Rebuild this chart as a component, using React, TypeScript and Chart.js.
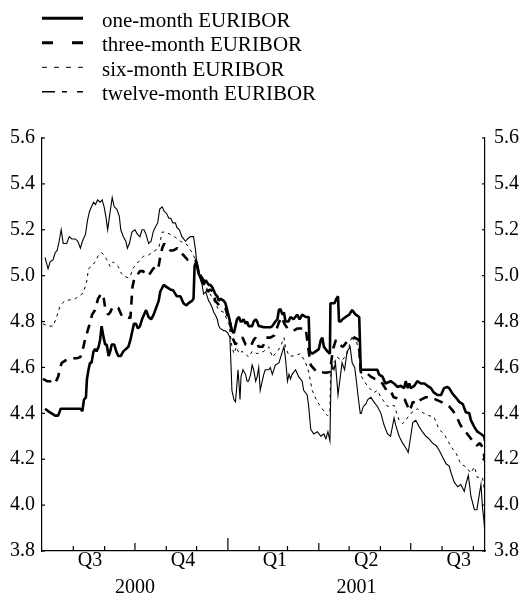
import { useEffect, useRef } from "react";
import { Chart, registerables } from "chart.js";

Chart.register(...registerables);

const FONT = '"Liberation Serif", "Times New Roman", serif';

// x values: days counted from 1 July 2000; y values: percentages per annum
const oneMonthDays = [
  3, 6, 9.5, 13, 16, 18.5, 21, 24.5, 28, 31,
  34.5, 38, 40, 41.5, 43.5, 44.5, 46, 47.5, 49, 51,
  52.5, 54, 56, 57.5, 59, 61, 62.5, 64, 66, 67.5,
  69, 71.5, 73.5, 75.5, 78, 80.5, 83, 85.5, 87.5, 89,
  91, 93, 95, 97, 99, 101, 103, 105.5, 108, 110.5,
  113, 115.5, 117, 120.5, 123.5, 127, 130, 133.5, 137, 140,
  143, 145, 148.5, 150, 151, 152.5, 153.5, 155, 157, 158.5,
  160, 162, 163.5, 165, 166.5, 168.5, 170, 171.5, 173.5, 175,
  176.5, 180, 181.5, 183, 185, 186.5, 188, 190, 191.5, 193,
  195, 196.5, 198, 199.5, 201.5, 203, 204.5, 206.5, 208, 209.5,
  211.5, 213, 214.5, 216, 219.5, 223, 226, 228, 231, 233,
  234.5, 236, 238, 239.5, 241, 244, 246, 249, 252.5, 255,
  257.5, 261, 264, 265, 267.5, 271, 274, 276, 277.5, 279,
  282.5, 285, 285.5, 287.5, 289.5, 291.5, 293, 294, 295.5, 297.5,
  300.5, 304, 307, 310.5, 314, 315.5, 319, 322, 327, 332,
  333.5, 337, 340, 345, 348.5, 352, 355, 358.5, 360, 362,
  363.5, 365, 368.5, 371.5, 375, 378.5, 381.5, 385, 388, 391.5,
  395, 398, 401, 403, 406.5, 409.5, 413, 416.5, 419.5, 423,
  424.5, 428, 431, 434.5, 437.5, 438.5,
];
const oneMonthRates = [
  4.42, 4.41, 4.40, 4.39, 4.39, 4.42, 4.42, 4.42, 4.42, 4.42,
  4.42, 4.42, 4.41, 4.46, 4.47, 4.55, 4.59, 4.62, 4.62, 4.67,
  4.68, 4.67, 4.69, 4.72, 4.78, 4.73, 4.70, 4.70, 4.65, 4.67,
  4.70, 4.70, 4.67, 4.65, 4.65, 4.67, 4.68, 4.69, 4.72, 4.75,
  4.79, 4.79, 4.77, 4.78, 4.81, 4.83, 4.85, 4.82, 4.81, 4.83,
  4.86, 4.89, 4.93, 4.96, 4.95, 4.94, 4.935, 4.91, 4.91, 4.88,
  4.87, 4.88, 4.89, 4.90, 5.04, 5.06, 5.04, 5.01, 4.99, 4.98,
  4.96, 4.98, 4.97, 4.96, 4.96, 4.95, 4.935, 4.92, 4.91, 4.89,
  4.90, 4.89, 4.88, 4.855, 4.82, 4.79, 4.76, 4.75, 4.78, 4.81,
  4.82, 4.80, 4.80, 4.81, 4.79, 4.80, 4.78, 4.78, 4.78, 4.80,
  4.81, 4.80, 4.78, 4.78, 4.775, 4.775, 4.775, 4.78, 4.80, 4.81,
  4.85, 4.855, 4.83, 4.84, 4.80, 4.80, 4.82, 4.81, 4.83, 4.81,
  4.83, 4.82, 4.82, 4.67, 4.66, 4.67, 4.68, 4.72, 4.73, 4.69,
  4.67, 4.66, 4.88, 4.88, 4.88, 4.90, 4.91, 4.80, 4.80, 4.81,
  4.82, 4.83, 4.85, 4.83, 4.82, 4.59, 4.59, 4.59, 4.59, 4.59,
  4.57, 4.56, 4.53, 4.54, 4.53, 4.515, 4.52, 4.51, 4.54, 4.51,
  4.53, 4.51, 4.52, 4.54, 4.53, 4.53, 4.52, 4.51, 4.49, 4.48,
  4.48, 4.51, 4.515, 4.51, 4.485, 4.47, 4.45, 4.44, 4.405, 4.40,
  4.37, 4.34, 4.32, 4.31, 4.30, 4.28,
];

const threeMonthDays = [
  1, 5, 8, 10.5, 13, 16, 18, 19.5, 23, 26,
  30, 34.5, 38, 40, 41.5, 42.5, 44.5, 46.5, 47.5, 49.5,
  52.5, 55.5, 58.5, 60.5, 62.5, 65.5, 67.5, 69.5, 72.5, 75.5,
  77.5, 79.5, 83.5, 87.5, 88.5, 89.5, 91.5, 94, 97, 100,
  103, 105, 107, 110, 113, 115, 117, 119, 121, 123,
  127, 130, 134, 137, 140, 144, 148, 152, 154, 157,
  160, 164, 166.5, 169.5, 171.5, 175.5, 178.5, 181.5, 184.5, 186.5,
  188.5, 191.5, 194.5, 198.5, 201.5, 206.5, 209.5, 211.5, 214.5, 218.5,
  222, 226, 230, 234, 237, 240, 243, 246, 249, 253,
  258, 261, 264, 266, 268, 272, 276, 281, 285, 288,
  291, 294, 298, 303, 305.5, 309.5, 313.5, 315.5, 318.5, 321.5,
  325.5, 329.5, 333, 337, 341, 345, 348, 352, 355, 359,
  362, 364, 367, 371, 375, 380, 385, 390, 395, 399,
  403, 407, 411, 414, 417, 421, 424.5, 427.5, 430.5, 433.5,
  436.5, 438.5,
];
const threeMonthRates = [
  4.55, 4.54, 4.54, 4.53, 4.53, 4.56, 4.60, 4.62, 4.63, 4.635,
  4.64, 4.64, 4.645, 4.67, 4.70, 4.72, 4.75, 4.78, 4.79, 4.83,
  4.85, 4.90, 4.92, 4.92, 4.86, 4.83, 4.84, 4.86, 4.865, 4.86,
  4.84, 4.82, 4.82, 4.815, 4.88, 4.95, 4.99, 5.00, 5.02, 5.02,
  5.00, 5.00, 5.01, 5.03, 5.04, 5.03, 5.08, 5.12, 5.14, 5.13,
  5.11, 5.11, 5.12, 5.10, 5.09, 5.07, 5.07, 5.07, 5.04, 5.00,
  4.98, 4.93, 4.94, 4.93, 4.89, 4.87, 4.86, 4.86, 4.81, 4.79,
  4.73, 4.70, 4.72, 4.73, 4.70, 4.69, 4.72, 4.73, 4.69, 4.69,
  4.73, 4.73, 4.74, 4.79, 4.82, 4.79, 4.77, 4.765, 4.76, 4.77,
  4.77, 4.77, 4.67, 4.61, 4.60, 4.58, 4.58, 4.577, 4.58, 4.68,
  4.72, 4.70, 4.69, 4.72, 4.72, 4.73, 4.72, 4.58, 4.57, 4.575,
  4.56, 4.55, 4.545, 4.53, 4.50, 4.50, 4.47, 4.465, 4.46, 4.46,
  4.43, 4.41, 4.45, 4.44, 4.46, 4.47, 4.47, 4.46, 4.45, 4.44,
  4.43, 4.41, 4.38, 4.35, 4.33, 4.31, 4.29, 4.27, 4.26, 4.27,
  4.25, 4.19,
];

const sixMonthDays = [
  1, 6, 11, 14.5, 18, 20, 23, 28, 33, 38,
  41, 44.5, 46, 49, 52.5, 56, 59, 61.5, 64, 67.5,
  70.5, 75.5, 78.5, 80.5, 85.5, 87.5, 90.5, 95.5, 100.5, 105.5,
  112, 115.5, 119, 122, 127, 132, 137, 143.5, 148.5, 152,
  153.5, 157, 160, 165, 168.5, 171.5, 175, 180, 185, 188,
  190, 192.5, 195, 198, 201.5, 204.5, 208, 213, 219.5, 224.5,
  228, 233, 236, 239.5, 241, 244.5, 249, 256, 261, 264,
  267.5, 272.5, 277.5, 282.5, 285, 285.5, 289, 292, 297, 302,
  307, 310.5, 313.5, 315.5, 322, 328.5, 332, 335.5, 342, 348.5,
  353.5, 357, 360, 365, 371.5, 378, 383, 388, 393, 398,
  405, 410, 414.5, 419.5, 424.5, 428, 431, 436, 438.5,
];
const sixMonthRates = [
  4.79, 4.78, 4.78, 4.82, 4.87, 4.88, 4.89, 4.895, 4.90, 4.915,
  4.925, 4.98, 5.03, 5.04, 5.06, 5.09, 5.10, 5.09, 5.07, 5.04,
  5.06, 5.04, 5.01, 5.00, 4.99, 5.00, 5.035, 5.06, 5.085, 5.09,
  5.11, 5.12, 5.19, 5.19, 5.18, 5.167, 5.15, 5.135, 5.10, 5.07,
  5.06, 4.99, 4.97, 4.93, 4.905, 4.88, 4.85, 4.84, 4.79, 4.69,
  4.66, 4.69, 4.66, 4.67, 4.66, 4.645, 4.67, 4.66, 4.67, 4.69,
  4.645, 4.67, 4.69, 4.73, 4.69, 4.65, 4.65, 4.66, 4.62, 4.58,
  4.50, 4.45, 4.42, 4.39, 4.40, 4.56, 4.62, 4.645, 4.63, 4.66,
  4.74, 4.73, 4.67, 4.565, 4.52, 4.49, 4.50, 4.47, 4.43, 4.435,
  4.37, 4.355, 4.37, 4.40, 4.42, 4.40, 4.39, 4.384, 4.33, 4.31,
  4.254, 4.225, 4.18, 4.167, 4.14, 4.167, 4.12, 4.12, 4.05,
];

const twelveMonthDays = [
  3, 6, 8, 11, 13, 15, 17, 19, 21, 24.5,
  27, 29.5, 33, 35.5, 38, 40, 43, 45, 47, 49,
  51, 53, 55, 57.5, 59.5, 61.5, 63.5, 65, 67.5, 69.5,
  71.5, 74, 76.5, 78, 80.5, 83, 84.5, 86.5, 89, 92,
  94.5, 97, 99, 101, 103, 105.5, 108, 110, 112, 114.5,
  116.5, 119, 121, 123.5, 125.5, 127.5, 129.5, 132, 133.5, 136,
  138.5, 142, 144, 147, 150, 152, 153.5, 155, 157, 158.5,
  160, 162, 163.5, 165, 166.5, 168.5, 170, 171.5, 173.5, 175,
  176.5, 180, 181.5, 184, 186, 187, 188, 190, 191.5, 192.5,
  194, 195, 196, 197, 199, 201.5, 203, 204.5, 206.5, 208,
  209.5, 211.5, 213, 214.5, 216, 218, 219.5, 221, 224.5, 226,
  228, 231, 234.5, 238, 239.5, 241, 243, 244.5, 246, 247.5,
  251, 254, 257.5, 259, 262.5, 264, 266, 269, 272.5, 276,
  279, 281, 283, 285, 285.5, 286.5, 289, 290.5, 293, 295,
  297, 299.5, 302, 305, 307, 309.5, 311.5, 313, 315, 316,
  318, 320.5, 322.5, 325.5, 328.5, 332, 335.5, 338.5, 342, 345,
  348.5, 350, 353.5, 357, 360, 362.5, 365, 367, 370, 373.5,
  376.5, 380, 383, 386.5, 390, 393, 396.5, 400, 403, 405,
  408, 411.5, 414.5, 418, 419.5, 422, 424.5, 428, 430.5, 433,
  434.5, 436, 437.5, 438.5,
];
const twelveMonthRates = [
  5.08, 5.03, 5.06, 5.07, 5.10, 5.11, 5.15, 5.20, 5.14, 5.14,
  5.17, 5.16, 5.16, 5.15, 5.12, 5.15, 5.18, 5.24, 5.28, 5.30,
  5.32, 5.31, 5.33, 5.32, 5.33, 5.30, 5.25, 5.20, 5.28, 5.34,
  5.30, 5.29, 5.26, 5.20, 5.17, 5.15, 5.12, 5.14, 5.19, 5.20,
  5.18, 5.17, 5.20, 5.20, 5.18, 5.14, 5.15, 5.19, 5.21, 5.23,
  5.29, 5.30, 5.28, 5.27, 5.25, 5.25, 5.23, 5.23, 5.21, 5.20,
  5.17, 5.15, 5.16, 5.17, 5.17, 5.11, 5.04, 5.03, 4.98, 4.96,
  4.92, 4.93, 4.91, 4.89, 4.88, 4.86, 4.84, 4.83, 4.81, 4.78,
  4.77, 4.76, 4.76, 4.75, 4.73, 4.62, 4.50, 4.46, 4.45, 4.50,
  4.59, 4.53, 4.46, 4.56, 4.59, 4.57, 4.54, 4.54, 4.57, 4.61,
  4.59, 4.54, 4.56, 4.60, 4.50, 4.54, 4.57, 4.59, 4.59, 4.60,
  4.57, 4.61, 4.62, 4.67, 4.69, 4.64, 4.54, 4.57, 4.55, 4.57,
  4.59, 4.56, 4.54, 4.50, 4.48, 4.43, 4.33, 4.31, 4.32, 4.30,
  4.31, 4.29, 4.32, 4.28, 4.41, 4.62, 4.59, 4.62, 4.48, 4.55,
  4.62, 4.59, 4.67, 4.69, 4.62, 4.60, 4.53, 4.47, 4.40, 4.40,
  4.43, 4.44, 4.46, 4.47, 4.45, 4.43, 4.40, 4.35, 4.31, 4.30,
  4.38, 4.35, 4.30, 4.27, 4.25, 4.23, 4.30, 4.36, 4.37, 4.34,
  4.32, 4.30, 4.29, 4.27, 4.26, 4.24, 4.21, 4.18, 4.17, 4.14,
  4.10, 4.08, 4.09, 4.06, 4.09, 4.13, 4.04, 3.98, 3.98, 4.05,
  4.09, 3.99, 3.93, 3.87,
];

const seriesLabels = [
  "one-month EURIBOR",
  "three-month EURIBOR",
  "six-month EURIBOR",
  "twelve-month EURIBOR",
];

const yTickValues = [3.8, 4.0, 4.2, 4.4, 4.6, 4.8, 5.0, 5.2, 5.4, 5.6];
const xAxisStart = "2000-07-01";
const xAxisEndDay = 438.5;
const quarterLabels = ["Q3", "Q4", "Q1", "Q2", "Q3"];
const quarterStarts = ["2000-07-01", "2000-10-01", "2001-01-01", "2001-04-01", "2001-07-01", "2001-10-01"];
const yearLabels = ["2000", "2001"];
const yearStarts = ["2000-07-01", "2001-01-01"];

const DAY = 86400000;
const dayOf = (s: string) => (Date.parse(s + "T00:00:00Z") - Date.parse(xAxisStart + "T00:00:00Z")) / DAY;

const pts = (d: number[], v: number[]) => d.map((x, i) => ({ x, y: v[i] }));

const legendStyles = [
  { width: 3, dash: [] as number[] },
  { width: 3, dash: [11, 19] },
  { width: 1, dash: [5, 7] },
  { width: 1.5, dash: [13, 7, 5, 10] },
];

const decorPlugin = {
  id: "decor",
  afterDraw(chart: any) {
    const { ctx, chartArea: a, scales } = chart;
    const xs = scales.x;
    const ys = scales.y;
    ctx.save();
    ctx.strokeStyle = "#000";
    ctx.fillStyle = "#000";
    ctx.lineWidth = 1.2;
    ctx.setLineDash([]);
    const line = (x1: number, y1: number, x2: number, y2: number) => {
      ctx.beginPath();
      ctx.moveTo(x1, y1);
      ctx.lineTo(x2, y2);
      ctx.stroke();
    };
    // inward y ticks on both axes
    yTickValues.forEach((v) => {
      const py = ys.getPixelForValue(v);
      line(a.left, py, a.left + 3, py);
      line(a.right - 3, py, a.right, py);
    });
    // month ticks on the time axis
    for (let y = 2000, m = 7; y < 2001 || m <= 8; ) {
      const s = `${y}-${String(m + 1).padStart(2, "0")}-01`;
      const d = dayOf(s);
      const px = xs.getPixelForValue(d);
      const len = m + 1 === 1 ? 13 : (m % 3 === 0 ? 8 : 5);
      line(px, a.bottom, px, a.bottom - len);
      m++;
      if (m === 12) { m = 0; y++; }
    }
    // quarter labels
    ctx.font = `20px ${FONT}`;
    ctx.textAlign = "center";
    ctx.textBaseline = "alphabetic";
    quarterLabels.forEach((lab, i) => {
      const mid = (dayOf(quarterStarts[i]) + dayOf(quarterStarts[i + 1])) / 2;
      ctx.fillText(lab, xs.getPixelForValue(mid) + 1.5, a.bottom + 15);
    });
    // year labels, centred on the visible part of each year
    yearLabels.forEach((lab, i) => {
      const s = dayOf(yearStarts[i]);
      const e = i + 1 < yearStarts.length ? dayOf(yearStarts[i + 1]) : xAxisEndDay;
      ctx.fillText(lab, xs.getPixelForValue((s + e) / 2), a.bottom + 42);
    });
    // legend
    ctx.font = `21px ${FONT}`;
    ctx.textAlign = "left";
    seriesLabels.forEach((lab, i) => {
      const ly = 18.3 + i * 24.5;
      const st = legendStyles[i];
      ctx.lineWidth = st.width;
      ctx.setLineDash(st.dash);
      ctx.lineCap = "butt";
      line(42, ly, 83, ly);
      ctx.setLineDash([]);
      ctx.fillText(lab, 102, ly + 8.4);
    });
    ctx.restore();
  },
};

export default function App() {
  const ref = useRef<HTMLCanvasElement>(null);
  useEffect(() => {
    if (!ref.current) return;
    const yCommon = {
      type: "linear" as const,
      min: 3.8,
      max: 5.6,
      grid: { display: false, drawTicks: false, tickLength: 0 },
      border: { display: true, color: "#000", width: 1.2 },
      afterBuildTicks: (axis: any) => {
        axis.ticks = yTickValues.map((v) => ({ value: v }));
      },
    };
    const chart = new Chart(ref.current, {
      type: "line",
      data: {
        datasets: [
          {
            label: seriesLabels[0],
            data: pts(oneMonthDays, oneMonthRates),
            borderColor: "#000",
            borderWidth: 2.6,
            pointRadius: 0,
            borderJoinStyle: "bevel",
          },
          {
            label: seriesLabels[1],
            data: pts(threeMonthDays, threeMonthRates),
            borderColor: "#000",
            borderWidth: 2.6,
            borderDash: [9, 7],
            pointRadius: 0,
            borderJoinStyle: "bevel",
          },
          {
            label: seriesLabels[2],
            data: pts(sixMonthDays, sixMonthRates),
            borderColor: "#000",
            borderWidth: 1,
            borderDash: [3, 4],
            pointRadius: 0,
          },
          {
            label: seriesLabels[3],
            data: pts(twelveMonthDays, twelveMonthRates),
            borderColor: "#000",
            borderWidth: 1.1,
            pointRadius: 0,
          },
        ],
      },
      options: {
        responsive: false,
        animation: false,
        layout: { padding: { top: 138, left: 0, right: 0, bottom: 0 } },
        plugins: { legend: { display: false }, tooltip: { enabled: false } },
        elements: { line: { tension: 0 } },
        scales: {
          x: {
            type: "linear",
            min: 0,
            max: xAxisEndDay,
            grid: { display: false, drawTicks: false, tickLength: 0 },
            border: { display: true, color: "#000", width: 1.2 },
            ticks: { display: false },
            afterFit: (s: any) => { s.height = 44; },
          },
          y: {
            ...yCommon,
            position: "left",
            ticks: {
              color: "#000",
              padding: 7,
              font: { family: FONT, size: 20 },
              callback: (v: any) => Number(v).toFixed(1),
            },
            afterFit: (s: any) => { s.width = 42; },
          },
          y2: {
            ...yCommon,
            position: "right",
            ticks: {
              color: "#000",
              padding: 9,
              font: { family: FONT, size: 20 },
              callback: (v: any) => Number(v).toFixed(1),
            },
            afterFit: (s: any) => { s.width = 40; },
          },
        },
      },
      plugins: [decorPlugin],
    });
    return () => chart.destroy();
  }, []);
  return (
    <div style={{ position: "absolute", left: 0, top: 0, width: 525, height: 595, background: "#fff" }}>
      <canvas ref={ref} width={525} height={595} style={{ display: "block" }} />
    </div>
  );
}
